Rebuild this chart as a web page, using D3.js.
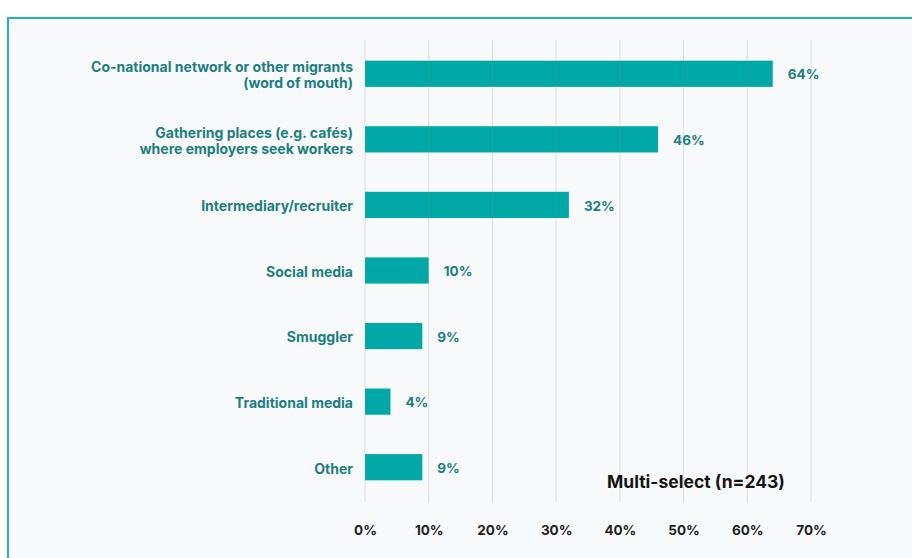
<!DOCTYPE html>
<html>
<head>
<meta charset="utf-8">
<script src="https://cdn.jsdelivr.net/npm/d3@7"></script>
<style>
  html, body { margin: 0; padding: 0; background: #ffffff; }
  svg { display: block; font-family: Inter, "Noto Sans", sans-serif; }
</style>
</head>
<body>
<svg id="chart" width="912" height="558"></svg>
<script>
// Channels used to find work (multi-select, n=243)
const categories = [
  ["Co-national network or other migrants", "(word of mouth)"],
  ["Gathering places (e.g. cafés)", "where employers seek workers"],
  ["Intermediary/recruiter"],
  ["Social media"],
  ["Smuggler"],
  ["Traditional media"],
  ["Other"]
];
const values = [64, 46, 32, 10, 9, 4, 9];
const tickValues = [0, 10, 20, 30, 40, 50, 60, 70];
const note = "Multi-select (n=243)";

const svg = d3.select("#chart");

// Framed panel
svg.append("rect")
  .attr("x", 8).attr("y", 18)
  .attr("width", 920).attr("height", 560)
  .attr("fill", "#f8f9fb")
  .attr("stroke", "#21b3ac")
  .attr("stroke-width", 2);

const x = d3.scaleLinear().domain([0, 70]).range([365, 811]);
const y = d3.scaleBand()
  .domain(d3.range(categories.length))
  .range([41, 500])
  .paddingInner(0.6)
  .paddingOuter(0.3);

const teal = "#00a9a8";
const labelTeal = "#1b7f80";

// Bars
svg.append("g").selectAll("rect")
  .data(values)
  .join("rect")
  .attr("x", x(0))
  .attr("y", (d, i) => y(i))
  .attr("width", d => x(d) - x(0))
  .attr("height", y.bandwidth())
  .attr("fill", teal);

// Vertical grid lines, drawn over the bars
svg.append("g").selectAll("line")
  .data(tickValues)
  .join("line")
  .attr("x1", d => x(d)).attr("x2", d => x(d))
  .attr("y1", 40).attr("y2", 502)
  .attr("stroke", "#8a8f98")
  .attr("stroke-opacity", 0.25)
  .attr("stroke-width", 1);

// Bottom axis
const axis = d3.axisBottom(x)
  .tickValues(tickValues)
  .tickFormat(d => d + "%")
  .tickSize(0)
  .tickPadding(0);
const gAxis = svg.append("g").attr("transform", "translate(0,525)").call(axis);
gAxis.select(".domain").remove();
gAxis.selectAll("text")
  .attr("fill", "#1f1f1f")
  .attr("font-size", 13.5)
  .attr("font-weight", 700)
  .attr("font-family", "Inter, sans-serif")
  .attr("dy", "0.71em");

// Category labels
const lineH = 16;
svg.append("g").selectAll("text")
  .data(categories)
  .join("text")
  .attr("text-anchor", "end")
  .attr("fill", labelTeal)
  .attr("font-size", 14)
  .attr("font-weight", 700)
  .each(function(lines, i) {
    const cy = y(i) + y.bandwidth() / 2;
    const top = cy - (lines.length - 1) * lineH / 2;
    d3.select(this).selectAll("tspan")
      .data(lines)
      .join("tspan")
      .attr("x", 353)
      .attr("y", (l, j) => top + j * lineH)
      .attr("dy", "0.45em")
      .text(l => l);
  });

// Value labels
svg.append("g").selectAll("text")
  .data(values)
  .join("text")
  .attr("x", d => x(d) + 15)
  .attr("y", (d, i) => y(i) + y.bandwidth() / 2)
  .attr("dy", "0.42em")
  .attr("fill", labelTeal)
  .attr("font-size", 13.5)
  .attr("font-weight", 700)
  .text(d => d + "%");

// Sample note
svg.append("text")
  .attr("x", 607).attr("y", 482)
  .attr("dy", "0.36em")
  .attr("fill", "#141414")
  .attr("font-size", 17.5)
  .attr("font-weight", 700)
  .text(note);
</script>
</body>
</html>
